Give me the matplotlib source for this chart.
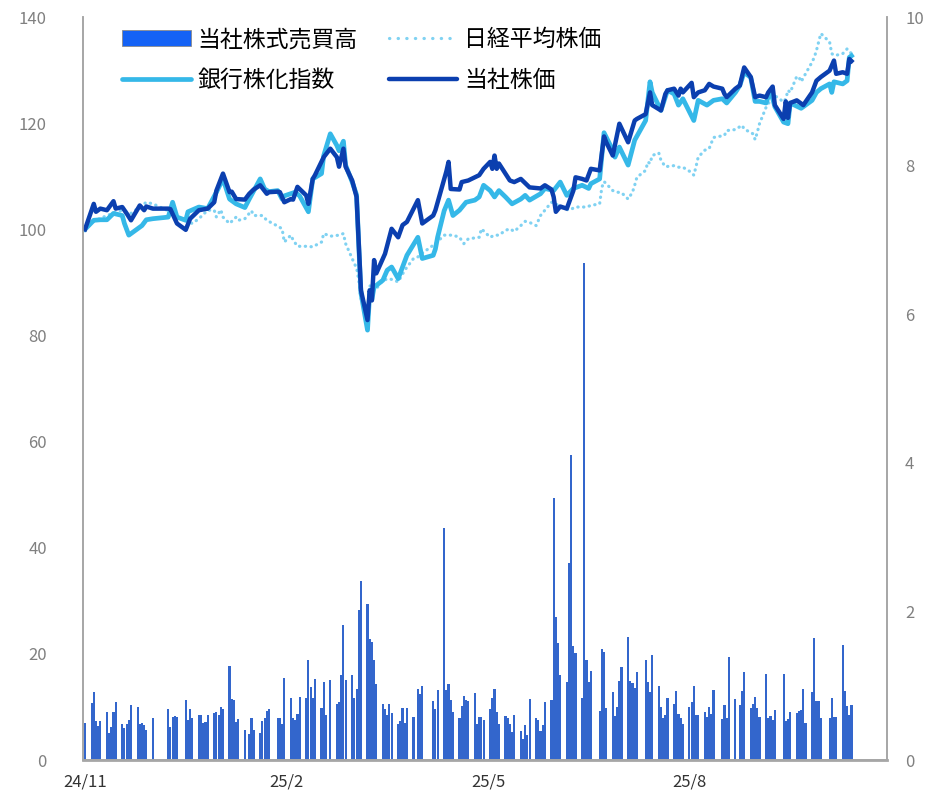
import matplotlib
matplotlib.use("Agg")
import matplotlib.pyplot as plt
from matplotlib.patches import Patch
from matplotlib.lines import Line2D
import pandas as pd

plt.rcParams["font.family"] = ["Noto Sans CJK JP", "DejaVu Sans"]

# TSE closing days falling on weekdays
holidays = [
    "2024-12-31", "2025-01-01", "2025-01-02", "2025-01-03", "2025-01-13",
    "2025-02-11", "2025-02-24", "2025-03-20", "2025-04-29", "2025-05-05",
    "2025-05-06", "2025-07-21", "2025-08-11", "2025-09-15", "2025-09-23",
    "2025-10-13", "2025-11-03",
]

# daily trading volume (right axis), one value per trading day
volume = [
    0.50,                                # 11/29
    0.77, 0.92, 0.52, 0.46, 0.53,        # 12/2-
    0.65, 0.37, 0.45, 0.65, 0.78,
    0.49, 0.43, 0.49, 0.54, 0.74,
    0.71, 0.49, 0.50, 0.47, 0.40,
    0.57,                                # 12/30
    0.68, 0.45, 0.58, 0.59, 0.58,        # 1/6-
    0.81, 0.54, 0.68, 0.57,
    0.61, 0.60, 0.50, 0.51, 0.61,
    0.63, 0.64, 0.61, 0.71, 0.69,
    1.27, 0.82, 0.81, 0.51, 0.55,        # 2/3-
    0.41, 0.35, 0.57, 0.41,
    0.37, 0.52, 0.57, 0.66, 0.68,
    0.57, 0.56, 0.48, 1.10,
    0.83, 0.56, 0.54, 0.62, 0.85,        # 3/3-
    0.83, 1.35, 0.98, 0.83, 1.09,
    0.70, 1.05, 0.61, 1.08,
    0.75, 0.78, 1.14, 1.82, 1.08,
    1.14, 0.83, 0.95, 2.02, 2.41,        # 3/31-
    2.10, 1.63, 1.59, 1.34, 1.02,
    0.75, 0.69, 0.60, 0.76, 0.63,
    0.49, 0.53, 0.70, 0.50, 0.70,
    0.58, 0.95, 0.89, 0.99,              # 4/28-
    0.79, 0.69, 0.94,
    3.12, 0.94, 1.02, 0.81, 0.65,        # 5/12-
    0.57, 0.73, 0.86, 0.81, 0.80,
    0.90, 0.48, 0.58, 0.58, 0.54,
    0.68, 0.83, 0.96, 0.64, 0.48,        # 6/2-
    0.59, 0.57, 0.48, 0.38, 0.60,
    0.39, 0.28, 0.47, 0.34, 0.82,
    0.56, 0.54, 0.39, 0.47, 0.78,
    0.81, 3.53, 1.93, 1.58, 1.14,        # 6/30-
    1.05, 2.65, 4.10, 1.53, 1.44,
    0.83, 6.69, 1.35, 1.05, 1.20,
    0.66, 1.49, 1.46, 0.70,
    0.91, 0.59, 0.72, 1.06, 1.25,        # 7/28-
    1.66, 1.06, 1.04, 0.97, 1.19,
    1.35, 1.05, 0.92, 1.41,
    1.00, 0.72, 0.57, 0.60, 0.83,
    0.76, 0.93, 0.62, 0.57, 0.49,
    0.72, 0.78, 1.00, 0.60, 0.60,        # 9/1-
    0.64, 0.58, 0.72, 0.62, 0.94,
    0.55, 0.74, 0.57, 1.39,
    0.82, 0.74, 0.93, 1.19,
    0.70, 0.75, 0.85, 0.70, 0.58,        # 9/29-
    1.16, 0.56, 0.59, 0.54, 0.67,
    1.16, 0.53, 0.55, 0.65,
    0.63, 0.66, 0.67, 0.96, 0.50,
    0.91, 1.64, 0.80, 0.80, 0.56,
    0.57, 0.84, 0.58, 0.58,              # 11/4-
    1.55, 0.93, 0.73, 0.60, 0.74,
]

# 当社株価 (index, 2024/11/29 = 100)
stock_dates = [
    "2024-11-29", "2024-12-03", "2024-12-04", "2024-12-06", "2024-12-09",
    "2024-12-12", "2024-12-13", "2024-12-16", "2024-12-18", "2024-12-20",
    "2024-12-24", "2024-12-26", "2024-12-27", "2024-12-30", "2025-01-06",
    "2025-01-07", "2025-01-10", "2025-01-14", "2025-01-16", "2025-01-20",
    "2025-01-24", "2025-01-27", "2025-01-28", "2025-01-31", "2025-02-03",
    "2025-02-04", "2025-02-06", "2025-02-10", "2025-02-12", "2025-02-14",
    "2025-02-17", "2025-02-20", "2025-02-21", "2025-02-25", "2025-02-26",
    "2025-02-28", "2025-03-03", "2025-03-04", "2025-03-06", "2025-03-10",
    "2025-03-11", "2025-03-13", "2025-03-14", "2025-03-18", "2025-03-21",
    "2025-03-24", "2025-03-25", "2025-03-27", "2025-03-28", "2025-03-31",
    "2025-04-02", "2025-04-03", "2025-04-04", "2025-04-07", "2025-04-08",
    "2025-04-09", "2025-04-10", "2025-04-11", "2025-04-15", "2025-04-18",
    "2025-04-21", "2025-04-23", "2025-04-25", "2025-04-30", "2025-05-02",
    "2025-05-07", "2025-05-08", "2025-05-12", "2025-05-13", "2025-05-14",
    "2025-05-15", "2025-05-19", "2025-05-20", "2025-05-23", "2025-05-28",
    "2025-05-30", "2025-06-02", "2025-06-03", "2025-06-04", "2025-06-05",
    "2025-06-06", "2025-06-11", "2025-06-13", "2025-06-16", "2025-06-19",
    "2025-06-20", "2025-06-25", "2025-06-27", "2025-06-30", "2025-07-01",
    "2025-07-02", "2025-07-04", "2025-07-07", "2025-07-10", "2025-07-11",
    "2025-07-14", "2025-07-16", "2025-07-18", "2025-07-22", "2025-07-24",
    "2025-07-25", "2025-07-28", "2025-07-31", "2025-08-04", "2025-08-07",
    "2025-08-08", "2025-08-12", "2025-08-14", "2025-08-15", "2025-08-19",
    "2025-08-21", "2025-08-22", "2025-08-25", "2025-08-27", "2025-08-28",
    "2025-08-29", "2025-09-02", "2025-09-03", "2025-09-05", "2025-09-08",
    "2025-09-10", "2025-09-12", "2025-09-16", "2025-09-17", "2025-09-18",
    "2025-09-22", "2025-09-24", "2025-09-26", "2025-09-29", "2025-10-01",
    "2025-10-03", "2025-10-06", "2025-10-07", "2025-10-09", "2025-10-10",
    "2025-10-14", "2025-10-15", "2025-10-16", "2025-10-17", "2025-10-20",
    "2025-10-23", "2025-10-27", "2025-10-29", "2025-10-31", "2025-11-04",
    "2025-11-06", "2025-11-07", "2025-11-10", "2025-11-12", "2025-11-13",
    "2025-11-14",
]
stock_vals = [
    100.0, 104.8, 103.3, 103.9, 103.6,
    105.3, 103.9, 104.2, 103.0, 101.7,
    104.5, 103.6, 104.3, 103.9, 103.9,
    103.8, 101.1, 99.9, 102.0, 103.6,
    103.9, 105.1, 107.3, 110.5, 107.0,
    107.1, 105.7, 105.6, 106.7, 107.5,
    108.3, 106.7, 107.0, 107.1, 107.0,
    105.1, 105.7, 105.6, 108.0, 106.4,
    104.8, 109.5, 110.2, 113.6, 115.2,
    113.6, 111.8, 115.2, 111.8, 109.2,
    106.1, 97.3, 88.5, 82.9, 88.5,
    86.6, 94.2, 91.7, 95.4, 100.1,
    98.5, 100.8, 101.4, 105.5, 101.1,
    102.6, 103.6, 109.5, 110.9, 112.7,
    107.6, 107.5, 108.9, 109.2, 110.2,
    111.4, 112.7, 111.4, 113.9, 111.4,
    112.4, 109.2, 108.9, 109.5, 108.3,
    107.9, 107.7, 108.3, 107.5, 106.1,
    103.3, 104.3, 103.9, 107.3, 109.8,
    109.5, 109.2, 111.4, 111.1, 117.5,
    116.4, 113.9, 119.9, 116.4, 120.5,
    120.8, 121.7, 125.8, 123.4, 122.4,
    125.5, 126.2, 126.5, 125.2, 126.5,
    125.8, 127.6, 124.9, 125.8, 126.2,
    127.4, 126.9, 126.5, 125.5, 124.9,
    126.5, 127.1, 130.5, 128.7, 124.9,
    125.2, 124.9, 125.8, 126.9, 123.4,
    120.8, 124.1, 121.0, 123.8, 124.3,
    123.4, 125.8, 128.0, 128.7, 129.9,
    131.8, 129.3, 129.6, 129.3, 132.1,
    131.7,
]

# 銀行株化指数
bank_dates = [
    "2024-11-29", "2024-12-03", "2024-12-06", "2024-12-09", "2024-12-12",
    "2024-12-16", "2024-12-17", "2024-12-19", "2024-12-23", "2024-12-25",
    "2024-12-27", "2024-12-30", "2025-01-06", "2025-01-08", "2025-01-10",
    "2025-01-14", "2025-01-15", "2025-01-20", "2025-01-24", "2025-01-28",
    "2025-01-31", "2025-02-03", "2025-02-06", "2025-02-10", "2025-02-12",
    "2025-02-17", "2025-02-19", "2025-02-21", "2025-02-25", "2025-02-27",
    "2025-02-28", "2025-03-05", "2025-03-07", "2025-03-11", "2025-03-13",
    "2025-03-17", "2025-03-18", "2025-03-21", "2025-03-24", "2025-03-25",
    "2025-03-27", "2025-03-28", "2025-03-31", "2025-04-02", "2025-04-03",
    "2025-04-04", "2025-04-07", "2025-04-08", "2025-04-09", "2025-04-10",
    "2025-04-14", "2025-04-16", "2025-04-18", "2025-04-21", "2025-04-25",
    "2025-04-30", "2025-05-02", "2025-05-07", "2025-05-08", "2025-05-09",
    "2025-05-12", "2025-05-14", "2025-05-16", "2025-05-19", "2025-05-22",
    "2025-05-26", "2025-05-28", "2025-05-30", "2025-06-02", "2025-06-04",
    "2025-06-06", "2025-06-09", "2025-06-12", "2025-06-16", "2025-06-18",
    "2025-06-20", "2025-06-25", "2025-06-27", "2025-07-01", "2025-07-04",
    "2025-07-07", "2025-07-10", "2025-07-14", "2025-07-17", "2025-07-18",
    "2025-07-22", "2025-07-24", "2025-07-28", "2025-07-29", "2025-07-31",
    "2025-08-04", "2025-08-07", "2025-08-12", "2025-08-14", "2025-08-15",
    "2025-08-19", "2025-08-22", "2025-08-25", "2025-08-27", "2025-08-29",
    "2025-09-03", "2025-09-05", "2025-09-09", "2025-09-12", "2025-09-16",
    "2025-09-18", "2025-09-22", "2025-09-24", "2025-09-26", "2025-09-29",
    "2025-10-01", "2025-10-03", "2025-10-06", "2025-10-08", "2025-10-10",
    "2025-10-14", "2025-10-16", "2025-10-17", "2025-10-22", "2025-10-27",
    "2025-10-29", "2025-10-31", "2025-11-04", "2025-11-05", "2025-11-06",
    "2025-11-10", "2025-11-12", "2025-11-13", "2025-11-14",
]
bank_vals = [
    100.0, 101.7, 101.8, 101.8, 103.0,
    102.6, 101.1, 98.9, 100.1, 100.7,
    101.8, 102.0, 102.3, 105.1, 102.3,
    101.7, 103.3, 104.2, 103.9, 107.0,
    109.5, 105.7, 104.8, 104.1, 105.7,
    109.5, 107.6, 107.1, 107.3, 105.7,
    106.3, 107.0, 106.3, 103.3, 109.5,
    110.5, 113.9, 118.0, 115.8, 114.8,
    116.6, 112.1, 108.9, 106.5, 97.0,
    88.0, 81.0, 88.0, 86.8, 89.1,
    90.4, 92.3, 92.9, 90.7, 95.1,
    98.5, 94.5, 95.1, 96.3, 98.5,
    103.5, 105.5, 102.6, 103.6, 105.1,
    105.5, 106.1, 108.3, 107.3, 106.1,
    107.3, 106.1, 104.8, 105.7, 106.4,
    105.5, 106.7, 107.7, 107.3, 108.9,
    106.4, 107.7, 108.3, 107.7, 108.6,
    109.5, 118.2, 114.9, 113.6, 115.5,
    112.1, 116.8, 120.5, 127.8, 125.8,
    122.4, 126.2, 125.5, 123.4, 124.6,
    120.5, 124.3, 123.4, 124.3, 124.6,
    123.8, 125.8, 127.1, 129.6, 128.6,
    124.1, 124.1, 123.8, 126.2, 123.1,
    120.2, 119.9, 123.8, 122.8, 124.3,
    125.8, 126.5, 127.4, 125.8, 127.8,
    127.4, 128.0, 132.4, 132.7,
]

# 日経平均株価
nikkei_dates = [
    "2024-11-29", "2024-12-03", "2024-12-09", "2024-12-16", "2024-12-20",
    "2024-12-27", "2024-12-30", "2025-01-06", "2025-01-10", "2025-01-17",
    "2025-01-20", "2025-01-24", "2025-01-27", "2025-01-28", "2025-01-30",
    "2025-01-31", "2025-02-03", "2025-02-06", "2025-02-07", "2025-02-10",
    "2025-02-13", "2025-02-14", "2025-02-18", "2025-02-20", "2025-02-25",
    "2025-02-27", "2025-02-28", "2025-03-03", "2025-03-04", "2025-03-06",
    "2025-03-10", "2025-03-13", "2025-03-17", "2025-03-18", "2025-03-21",
    "2025-03-25", "2025-03-27", "2025-03-28", "2025-03-31", "2025-04-01",
    "2025-04-02", "2025-04-03", "2025-04-04", "2025-04-07", "2025-04-08",
    "2025-04-09", "2025-04-11", "2025-04-14", "2025-04-17", "2025-04-21",
    "2025-04-24", "2025-04-28", "2025-04-30", "2025-05-02", "2025-05-07",
    "2025-05-08", "2025-05-12", "2025-05-16", "2025-05-19", "2025-05-21",
    "2025-05-23", "2025-05-28", "2025-05-29", "2025-06-02", "2025-06-04",
    "2025-06-06", "2025-06-09", "2025-06-11", "2025-06-13", "2025-06-16",
    "2025-06-18", "2025-06-20", "2025-06-23", "2025-06-25", "2025-06-27",
    "2025-06-30", "2025-07-02", "2025-07-04", "2025-07-08", "2025-07-11",
    "2025-07-16", "2025-07-18", "2025-07-22", "2025-07-23", "2025-07-24",
    "2025-07-25", "2025-07-28", "2025-07-30", "2025-08-01", "2025-08-04",
    "2025-08-06", "2025-08-07", "2025-08-08", "2025-08-12", "2025-08-13",
    "2025-08-14", "2025-08-15", "2025-08-18", "2025-08-19", "2025-08-21",
    "2025-08-25", "2025-08-27", "2025-08-29", "2025-09-02", "2025-09-03",
    "2025-09-04", "2025-09-05", "2025-09-08", "2025-09-10", "2025-09-12",
    "2025-09-17", "2025-09-18", "2025-09-22", "2025-09-25", "2025-09-26",
    "2025-09-30", "2025-10-01", "2025-10-02", "2025-10-03", "2025-10-06",
    "2025-10-08", "2025-10-10", "2025-10-14", "2025-10-15", "2025-10-16",
    "2025-10-17", "2025-10-20", "2025-10-21", "2025-10-22", "2025-10-24",
    "2025-10-27", "2025-10-28", "2025-10-29", "2025-10-30", "2025-10-31",
    "2025-11-04", "2025-11-05", "2025-11-06", "2025-11-07", "2025-11-10",
    "2025-11-12", "2025-11-14",
]
nikkei_vals = [
    100.0, 101.5, 102.6, 103.6, 103.0,
    105.1, 104.8, 103.5, 102.3, 101.1,
    102.0, 103.6, 103.6, 102.3, 103.7,
    102.3, 101.1, 102.3, 101.7, 102.0,
    103.5, 102.6, 102.6, 101.7, 100.6,
    100.1, 97.6, 98.9, 98.0, 96.8,
    96.8, 96.7, 97.6, 99.2, 98.7,
    98.9, 99.2, 97.3, 94.5, 93.5,
    92.8, 90.4, 87.0, 84.1, 89.5,
    88.5, 88.8, 90.4, 90.7, 90.1,
    92.3, 94.5, 94.8, 95.5, 97.0,
    97.3, 98.9, 98.9, 98.5, 97.3,
    98.2, 98.5, 100.1, 98.5, 98.9,
    98.9, 99.8, 100.1, 99.6, 100.7,
    101.5, 101.3, 100.7, 102.6, 103.6,
    105.1, 104.8, 104.2, 103.6, 104.2,
    104.2, 104.5, 104.8, 107.9, 109.0,
    108.6, 107.3, 107.0, 106.9, 105.7,
    107.0, 108.3, 109.8, 111.1, 112.7,
    112.4, 113.9, 114.4, 113.0, 111.8,
    112.0, 111.7, 111.7, 110.7, 110.2,
    111.8, 113.6, 114.9, 115.2, 117.3,
    117.7, 118.6, 118.8, 119.6, 118.9,
    118.0, 116.9, 118.3, 119.9, 123.0,
    124.3, 125.2, 124.0, 124.6, 126.2,
    125.8, 128.8, 128.7, 127.8, 129.3,
    131.5, 132.4, 133.7, 135.3, 136.9,
    135.3, 133.1, 132.8, 132.8, 133.1,
    134.0, 133.1,
]

tick_dates = ["2024-11-29", "2025-03-01", "2025-06-01", "2025-09-01"]
tick_labels = ["24/11", "25/2", "25/5", "25/8"]

trade_days = pd.bdate_range("2024-11-29", "2025-11-14")
trade_days = trade_days[~trade_days.isin(pd.to_datetime(holidays))]
assert len(trade_days) == len(volume), (len(trade_days), len(volume))

DARK = "#0B3FAF"
BANK = "#35B8E8"
NIKKEI = "#80D2F2"
BAR = "#3366CC"
AXIS_GRAY = "#A6A6A6"

fig = plt.figure(figsize=(9.31, 7.96), dpi=100)
ax = fig.add_axes([0.0892, 0.0452, 0.8635, 0.9334])
ax2 = ax.twinx()

ax2.bar(trade_days, volume, width=0.97, color=BAR, linewidth=0)
ax2.set_ylim(0, 10)
ax2.set_yticks(range(0, 11, 2))

# lines sit above the volume bars
ax.set_zorder(ax2.get_zorder() + 1)
ax.patch.set_visible(False)

ax.plot(pd.to_datetime(nikkei_dates), nikkei_vals, color=NIKKEI, lw=2.3,
        linestyle=(0, (0.1, 1.7)), dash_capstyle="round")
ax.plot(pd.to_datetime(bank_dates), bank_vals, color=BANK, lw=3.4,
        solid_joinstyle="round")
ax.plot(pd.to_datetime(stock_dates), stock_vals, color=DARK, lw=3.2,
        solid_joinstyle="round")

ax.set_ylim(0, 140)
ax.set_yticks(range(0, 141, 20))
start = pd.Timestamp("2024-11-29")
ax.set_xlim(start - pd.Timedelta(days=0.9), start + pd.Timedelta(days=366.2))
ax.set_xticks(pd.to_datetime(tick_dates))
ax.set_xticklabels(tick_labels)

ax.tick_params(axis="y", length=0, pad=26, labelsize=12, labelcolor="#808080")
ax2.tick_params(axis="y", length=0, pad=13, labelsize=12, labelcolor="#808080")
ax.tick_params(axis="x", length=0, pad=10, labelsize=12, labelcolor="#333333")
for a in (ax, ax2):
    a.spines["top"].set_visible(False)
    for side in ("left", "right", "bottom"):
        a.spines[side].set_color(AXIS_GRAY)
        a.spines[side].set_linewidth(1.2)
ax.spines["bottom"].set_linewidth(2.0)

handles = [
    Patch(facecolor="#1462F5", edgecolor="#8C8C8C", linewidth=0.6),
    Line2D([], [], color=BANK, lw=3.4, solid_capstyle="round"),
    Line2D([], [], color=NIKKEI, lw=2.3, linestyle=(0, (0.1, 2.6)),
           dash_capstyle="round"),
    Line2D([], [], color=DARK, lw=3.2, solid_capstyle="round"),
]
labels = ["当社株式売買高", "銀行株化指数", "日経平均株価", "当社株価"]
ax.legend(handles, labels, ncol=2, loc="upper left",
          bbox_to_anchor=(0.037, 0.997), frameon=False, fontsize=16.5,
          handlelength=3.0, handletextpad=0.3, columnspacing=1.35,
          labelspacing=0.78, borderaxespad=0.0)

fig.savefig("out.png", dpi=100)
